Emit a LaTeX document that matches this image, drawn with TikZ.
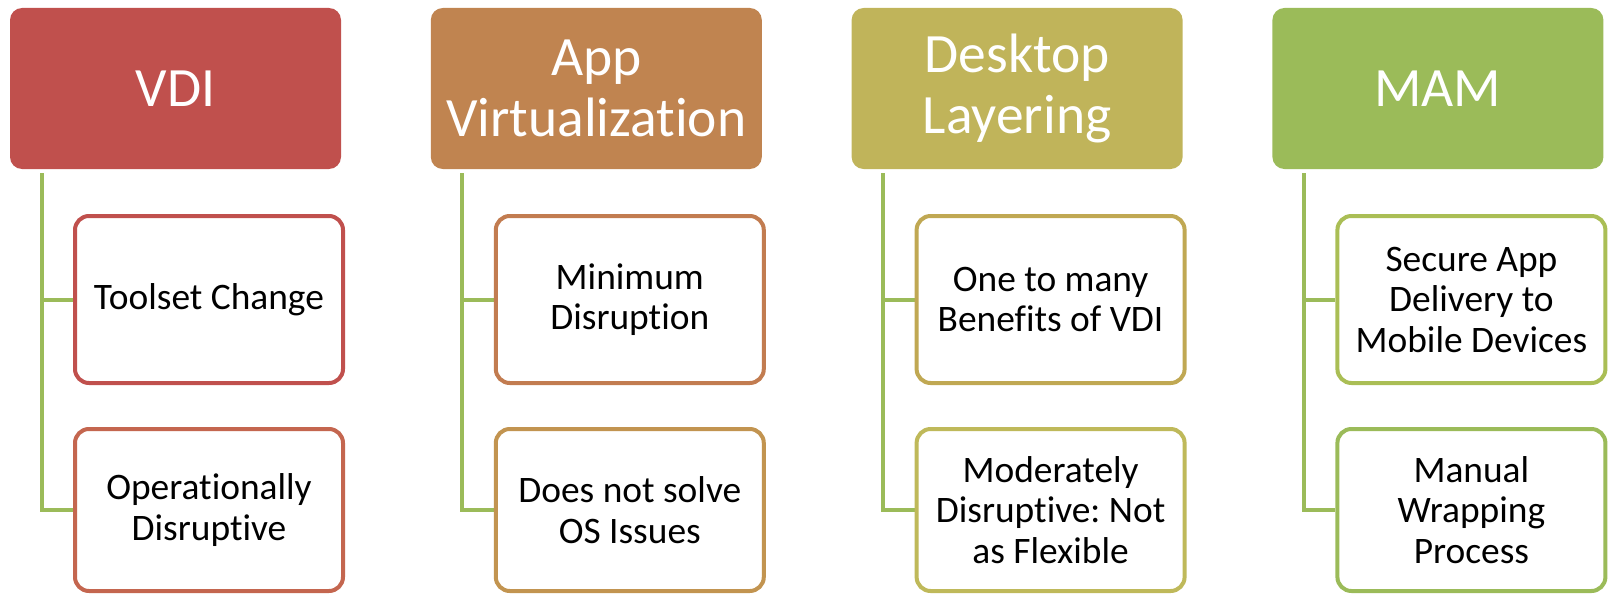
\documentclass[tikz,border=0pt]{standalone}
\usepackage{fontspec}
\setmainfont{Carlito}[Ligatures=NoCommon]
\frenchspacing
\usetikzlibrary{backgrounds}
\definecolor{hA}{HTML}{C0504D}
\definecolor{hB}{HTML}{C08450}
\definecolor{hC}{HTML}{C0B45A}
\definecolor{hD}{HTML}{9BBB59}
\definecolor{kA}{HTML}{C0504D}
\definecolor{kB}{HTML}{C4664F}
\definecolor{kC}{HTML}{C27C50}
\definecolor{kD}{HTML}{C29450}
\definecolor{kE}{HTML}{C0A853}
\definecolor{kF}{HTML}{BFB95A}
\definecolor{kG}{HTML}{AABE55}
\definecolor{kH}{HTML}{9BBB59}
\definecolor{lgreen}{HTML}{9BBB59}
\begin{document}
\begin{tikzpicture}[x=1pt,y=-1pt,
  hdr/.style={rounded corners=12pt, fill=#1, draw=none, minimum width=331pt,
    minimum height=161pt, text=white, font=\fontsize{55.5}{60.5}\selectfont,
    align=center, inner sep=0pt},
  kid/.style={rounded corners=14pt, draw=#1, line width=4pt, fill=white,
    minimum width=268pt, font=\fontsize{37.4}{40.5}\selectfont,
    align=center, inner sep=0pt},
  kidtop/.style={kid=#1, minimum height=167pt},
  kidbot/.style={kid=#1, minimum height=162pt},
  link/.style={draw=lgreen, line width=4pt}]
\useasboundingbox (0,0) rectangle (1609,594);

% headers
\node[hdr=hA] (h1) at (175.5,88.5) {VDI};
\node[hdr=hB] (h2) at (596.3,88.5) {App\\Virtualization};
\node[hdr=hC] (h3) at (1017.1,88.5) {Desktop\\Layering};
\node[hdr=hD] (h4) at (1437.9,88.5) {MAM};

% children
\node[kidtop=kA] (c11) at (209,299.5) {Toolset Change};
\node[kidbot=kB] (c12) at (209,510) {Operationally\\Disruptive};
\node[kidtop=kC] (c21) at (629.8,299.5) {Minimum\\Disruption};
\node[kidbot=kD] (c22) at (629.8,510) {Does not solve\\OS Issues};
\node[kidtop=kE] (c31) at (1050.6,299.5) {One to many\\Benefits of VDI};
\node[kidbot=kF] (c32) at (1050.6,510) {Moderately\\Disruptive: Not\\as Flexible};
\node[kidtop=kG] (c41) at (1471.4,299.5) {Secure App\\Delivery to\\Mobile Devices};
\node[kidbot=kH] (c42) at (1471.4,510) {Manual\\Wrapping\\Process};

% connectors
\coordinate (l1) at (41.5,173);
\coordinate (l2) at (462.3,173);
\coordinate (l3) at (883.1,173);
\coordinate (l4) at (1303.9,173);
\begin{scope}[on background layer]
  \draw[link] (l1) |- (c11.west);
  \draw[link] (l1) |- (c12.west);
  \draw[link] (l2) |- (c21.west);
  \draw[link] (l2) |- (c22.west);
  \draw[link] (l3) |- (c31.west);
  \draw[link] (l3) |- (c32.west);
  \draw[link] (l4) |- (c41.west);
  \draw[link] (l4) |- (c42.west);
\end{scope}
\end{tikzpicture}
\end{document}
